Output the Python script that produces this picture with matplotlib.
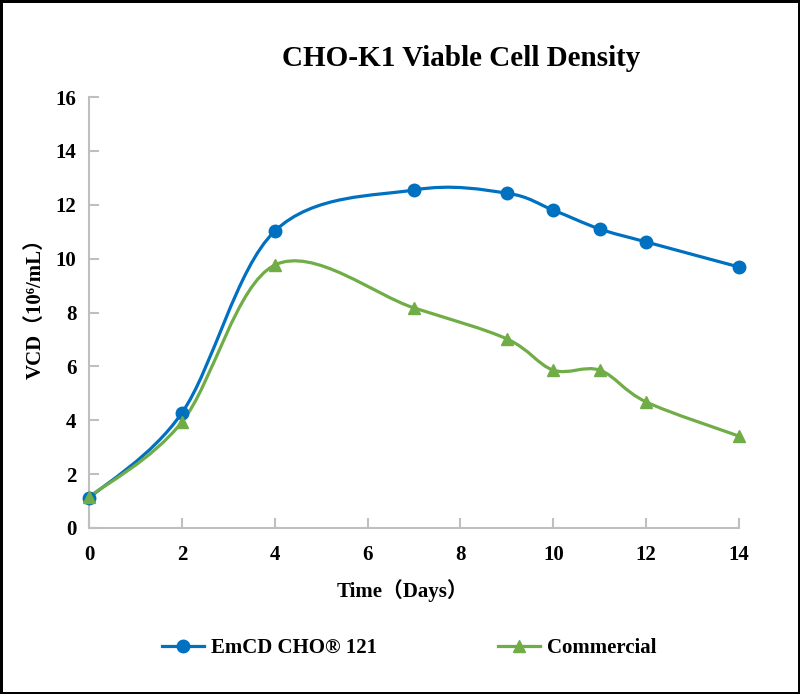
import matplotlib
matplotlib.use("Agg")
import matplotlib.pyplot as plt
from matplotlib.path import Path
from matplotlib.patches import PathPatch
from matplotlib.lines import Line2D

days = [0, 2, 4, 7, 9, 10, 11, 12, 14]
emcd = [1.11, 4.27, 11.02, 12.55, 12.43, 11.80, 11.10, 10.62, 9.69]
commercial = [1.15, 3.93, 9.76, 8.17, 7.02, 5.86, 5.86, 4.68, 3.41]

series_names = ["EmCD CHO® 121", "Commercial"]
blue = "#0070C0"
green = "#70AD47"

plt.rcParams["font.family"] = ["Liberation Serif", "Noto Sans CJK SC", "DejaVu Serif"]
plt.rcParams["font.weight"] = "bold"


def smooth_path(xs, ys):
    # Excel-like smoothed line (Catmull-Rom as cubic Bezier)
    pts = list(zip(xs, ys))
    n = len(pts)
    verts = [pts[0]]
    codes = [Path.MOVETO]
    for i in range(n - 1):
        p0 = pts[i - 1] if i > 0 else pts[i]
        p1 = pts[i]
        p2 = pts[i + 1]
        p3 = pts[i + 2] if i + 2 < n else pts[i + 1]
        c1 = (p1[0] + (p2[0] - p0[0]) / 6, p1[1] + (p2[1] - p0[1]) / 6)
        c2 = (p2[0] - (p3[0] - p1[0]) / 6, p2[1] - (p3[1] - p1[1]) / 6)
        verts += [c1, c2, p2]
        codes += [Path.CURVE4] * 3
    return Path(verts, codes)


fig = plt.figure(figsize=(8, 6.94), dpi=100)
fig.patch.set_edgecolor("black")
fig.patch.set_linewidth(2.5)
ax = fig.add_axes([0.11125, 0.2392, 0.8125, 0.621])

for ys, col, mk in [(emcd, blue, "o"), (commercial, green, "^")]:
    ax.add_patch(PathPatch(smooth_path(days, ys), facecolor="none",
                           edgecolor=col, lw=2.3, zorder=2))
    ax.plot(days, ys, linestyle="none", marker=mk, color=col,
            markersize=9, zorder=3, clip_on=False)

ax.set_xlim(0, 14)
ax.set_ylim(0, 16)
ax.set_xticks(range(0, 15, 2))
ax.set_yticks(range(0, 17, 2))
for s in ["top", "right"]:
    ax.spines[s].set_visible(False)
for s in ["left", "bottom"]:
    ax.spines[s].set_color("#BFBFBF")
    ax.spines[s].set_linewidth(1.5)
ax.tick_params(direction="in", length=7, width=1.5, color="#BFBFBF",
               labelsize=15, pad=12)
ax.tick_params(axis="y", pad=9)
for lab in ax.get_xticklabels() + ax.get_yticklabels():
    lab.set_fontweight("bold")

ax.set_xlabel("Time（Days）", fontsize=15, fontweight="bold")
ax.set_ylabel("VCD（10⁶/mL）", fontsize=15, fontweight="bold")
ax.xaxis.set_label_coords(0.483, -0.118)
ax.yaxis.set_label_coords(-0.067, 0.52)

fig.text(0.576, 0.916, "CHO-K1 Viable Cell Density", fontsize=21,
         fontweight="bold", ha="center", va="center")

handles = [Line2D([], [], color=blue, lw=2.3, marker="o", markersize=9),
           Line2D([], [], color=green, lw=2.3, marker="^", markersize=9)]
fig.legend(handles, series_names, loc="center", bbox_to_anchor=(0.512, 0.066),
           ncol=2, frameon=False, prop={"size": 15, "weight": "bold"},
           handlelength=2.0, columnspacing=5.8, handletextpad=0.35)

fig.savefig("out.png", dpi=100)
